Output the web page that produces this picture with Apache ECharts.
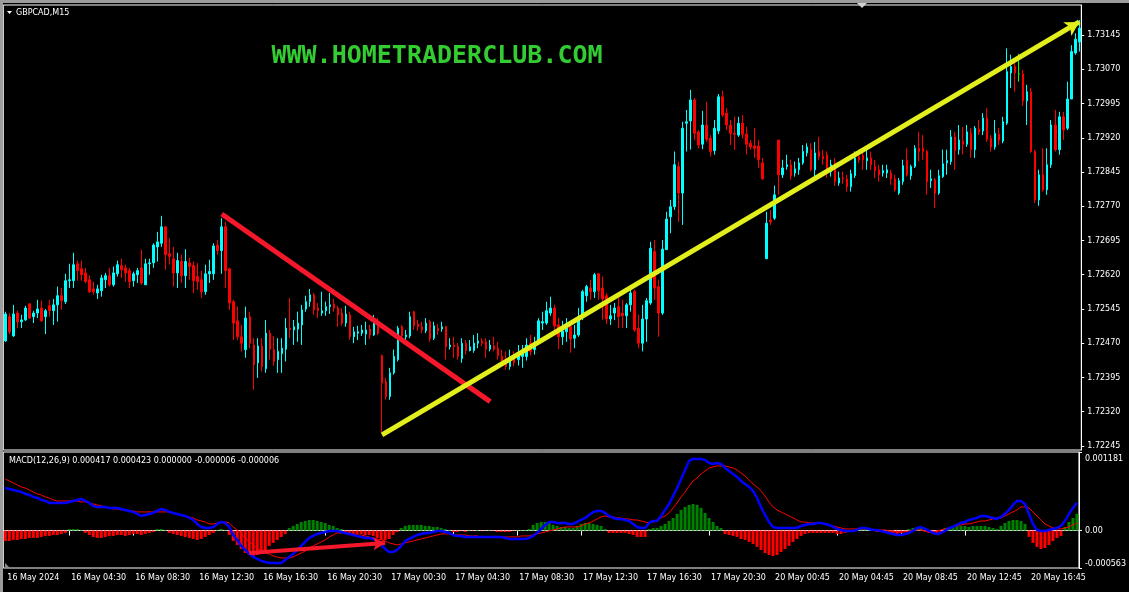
<!DOCTYPE html>
<html><head><meta charset="utf-8">
<script src="https://cdn.jsdelivr.net/npm/echarts@6/dist/echarts.min.js"></script>
<style>html,body{margin:0;padding:0;background:#000;}#c{width:1129px;height:592px;}</style>
</head><body><div id="c"></div>
<script>
const symbolName = 'GBPCAD,M15';
const watermark = 'WWW.HOMETRADERCLUB.COM';
const macdLegend = 'MACD(12,26,9) 0.000417 0.000423 0.000000 -0.000006 -0.000006';
const priceTicks = [1.72245,1.72320,1.72395,1.72470,1.72545,1.72620,1.72695,1.72770,1.72845,1.72920,1.72995,1.73070,1.73145];
const macdTicks = [-0.000563, 0, 0.001181];
const timeLabels = ['16 May 2024','16 May 04:30','16 May 08:30','16 May 12:30','16 May 16:30','16 May 20:30','17 May 00:30','17 May 04:30','17 May 08:30','17 May 12:30','17 May 16:30','17 May 20:30','20 May 00:45','20 May 04:45','20 May 08:45','20 May 12:45','20 May 16:45'];
const labelStep = 16;

const open = [
1.72475,1.72528,1.72486,1.72536,1.72517,1.72521,1.72556,1.72528,1.72536,1.72547,
1.72528,1.72552,1.72541,1.72554,1.72574,1.72561,1.72607,1.72607,1.72644,1.72633,
1.72624,1.72609,1.72589,1.72580,1.72585,1.72609,1.72618,1.72598,1.72622,1.72640,
1.72635,1.72629,1.72607,1.72620,1.72635,1.72598,1.72644,1.72646,1.72681,1.72689,
1.72725,1.72666,1.72655,1.72624,1.72649,1.72618,1.72646,1.72640,1.72616,1.72609,
1.72583,1.72622,1.72622,1.72685,1.72673,1.72725,1.72633,1.72561,1.72519,1.72484,
1.72456,1.72528,1.72466,1.72427,1.72464,1.72414,1.72492,1.72456,1.72434,1.72447,
1.72457,1.72503,1.72499,1.72501,1.72510,1.72545,1.72561,1.72576,1.72547,1.72536,
1.72541,1.72550,1.72556,1.72547,1.72536,1.72514,1.72532,1.72484,1.72492,1.72492,
1.72490,1.72501,1.72488,1.72517,1.72443,1.72386,1.72353,1.72405,1.72434,1.72506,
1.72484,1.72486,1.72539,1.72512,1.72506,1.72497,1.72517,1.72481,1.72503,1.72501,
1.72506,1.72462,1.72466,1.72464,1.72436,1.72470,1.72454,1.72454,1.72470,1.72475,
1.72473,1.72457,1.72464,1.72459,1.72441,1.72436,1.72419,1.72441,1.72434,1.72441,
1.72441,1.72470,1.72456,1.72470,1.72514,1.72514,1.72536,1.72547,1.72510,1.72484,
1.72495,1.72506,1.72481,1.72488,1.72528,1.72574,1.72591,1.72583,1.72622,1.72591,
1.72574,1.72523,1.72536,1.72550,1.72536,1.72530,1.72554,1.72583,1.72503,1.72470,
1.72523,1.72558,1.72671,1.72594,1.72536,1.72675,1.72747,1.72769,1.72857,1.72799,
1.72952,1.72957,1.73003,1.72933,1.72906,1.72948,1.72919,1.72892,1.72935,1.73010,
1.72974,1.72948,1.72930,1.72926,1.72952,1.72928,1.72908,1.72902,1.72902,1.72865,
1.72655,1.72740,1.72744,1.72915,1.72839,1.72857,1.72861,1.72843,1.72850,1.72865,
1.72887,1.72894,1.72850,1.72890,1.72879,1.72883,1.72846,1.72865,1.72821,1.72832,
1.72830,1.72813,1.72837,1.72879,1.72881,1.72870,1.72876,1.72857,1.72850,1.72843,
1.72843,1.72843,1.72830,1.72799,1.72824,1.72870,1.72837,1.72857,1.72897,1.72897,
1.72890,1.72826,1.72828,1.72799,1.72835,1.72865,1.72868,1.72922,1.72894,1.72913,
1.72906,1.72930,1.72894,1.72939,1.72935,1.72963,1.72919,1.72900,1.72928,1.72913,
1.72952,1.73062,1.73076,1.73060,1.73060,1.73001,1.73021,1.72890,1.72784,1.72839,
1.72806,1.72861,1.72948,1.72894,1.72966,1.72941,1.73005,1.73106,1.73130];

const close = [
1.72534,1.72495,1.72534,1.72517,1.72521,1.72547,1.72525,1.72536,1.72545,1.72519,
1.72541,1.72541,1.72554,1.72574,1.72563,1.72607,1.72609,1.72642,1.72629,1.72620,
1.72605,1.72583,1.72583,1.72589,1.72613,1.72618,1.72598,1.72624,1.72642,1.72631,
1.72624,1.72605,1.72622,1.72629,1.72602,1.72644,1.72646,1.72685,1.72692,1.72725,
1.72664,1.72660,1.72624,1.72651,1.72618,1.72649,1.72638,1.72607,1.72605,1.72583,
1.72622,1.72627,1.72683,1.72673,1.72725,1.72629,1.72558,1.72514,1.72484,1.72470,
1.72525,1.72470,1.72423,1.72464,1.72419,1.72492,1.72457,1.72430,1.72452,1.72459,
1.72503,1.72499,1.72506,1.72514,1.72543,1.72561,1.72576,1.72543,1.72541,1.72541,
1.72550,1.72554,1.72547,1.72532,1.72514,1.72534,1.72484,1.72495,1.72495,1.72499,
1.72499,1.72488,1.72517,1.72492,1.72383,1.72353,1.72405,1.72441,1.72503,1.72486,
1.72488,1.72528,1.72508,1.72506,1.72499,1.72514,1.72479,1.72508,1.72497,1.72506,
1.72462,1.72466,1.72462,1.72441,1.72470,1.72454,1.72462,1.72470,1.72475,1.72470,
1.72457,1.72466,1.72457,1.72443,1.72430,1.72419,1.72438,1.72427,1.72447,1.72452,
1.72466,1.72452,1.72470,1.72519,1.72517,1.72541,1.72547,1.72508,1.72484,1.72497,
1.72503,1.72479,1.72488,1.72528,1.72583,1.72594,1.72583,1.72620,1.72585,1.72567,
1.72523,1.72530,1.72547,1.72528,1.72530,1.72554,1.72580,1.72499,1.72470,1.72523,
1.72563,1.72678,1.72591,1.72536,1.72676,1.72742,1.72769,1.72861,1.72799,1.72941,
1.72955,1.73003,1.72930,1.72904,1.72948,1.72917,1.72890,1.72941,1.73010,1.72970,
1.72948,1.72930,1.72928,1.72952,1.72928,1.72906,1.72900,1.72897,1.72872,1.72830,
1.72733,1.72736,1.72795,1.72839,1.72854,1.72861,1.72837,1.72852,1.72865,1.72890,
1.72900,1.72850,1.72887,1.72879,1.72874,1.72846,1.72861,1.72824,1.72832,1.72830,
1.72813,1.72841,1.72876,1.72872,1.72872,1.72876,1.72861,1.72848,1.72839,1.72848,
1.72850,1.72830,1.72806,1.72826,1.72859,1.72839,1.72857,1.72897,1.72890,1.72890,
1.72824,1.72830,1.72799,1.72837,1.72863,1.72870,1.72922,1.72892,1.72915,1.72906,
1.72933,1.72894,1.72941,1.72933,1.72963,1.72917,1.72900,1.72930,1.72915,1.72955,
1.73065,1.73076,1.73062,1.73060,1.73001,1.73021,1.72890,1.72784,1.72839,1.72806,
1.72861,1.72948,1.72894,1.72966,1.72937,1.73005,1.73109,1.73136,1.73160];

const high = [
1.72539,1.72536,1.72554,1.72541,1.72532,1.72552,1.72558,1.72541,1.72565,1.72563,
1.72545,1.72565,1.72567,1.72594,1.72591,1.72622,1.72644,1.72668,1.72651,1.72651,
1.72635,1.72618,1.72605,1.72598,1.72620,1.72624,1.72635,1.72638,1.72651,1.72655,
1.72642,1.72635,1.72627,1.72635,1.72675,1.72655,1.72655,1.72689,1.72714,1.72749,
1.72725,1.72700,1.72681,1.72668,1.72664,1.72676,1.72657,1.72649,1.72646,1.72629,
1.72642,1.72653,1.72689,1.72696,1.72744,1.72736,1.72635,1.72565,1.72550,1.72510,
1.72550,1.72539,1.72481,1.72481,1.72481,1.72521,1.72499,1.72486,1.72481,1.72481,
1.72525,1.72569,1.72521,1.72539,1.72554,1.72574,1.72589,1.72580,1.72558,1.72583,
1.72561,1.72580,1.72567,1.72552,1.72547,1.72552,1.72539,1.72506,1.72508,1.72510,
1.72517,1.72510,1.72532,1.72525,1.72445,1.72394,1.72416,1.72456,1.72508,1.72510,
1.72499,1.72539,1.72541,1.72521,1.72517,1.72525,1.72521,1.72517,1.72512,1.72517,
1.72508,1.72481,1.72484,1.72470,1.72481,1.72477,1.72477,1.72488,1.72492,1.72481,
1.72481,1.72477,1.72484,1.72473,1.72456,1.72452,1.72456,1.72452,1.72466,1.72466,
1.72481,1.72488,1.72484,1.72525,1.72539,1.72561,1.72572,1.72554,1.72525,1.72519,
1.72525,1.72510,1.72510,1.72547,1.72587,1.72598,1.72609,1.72624,1.72624,1.72616,
1.72580,1.72554,1.72558,1.72576,1.72565,1.72558,1.72591,1.72587,1.72532,1.72554,
1.72569,1.72692,1.72696,1.72609,1.72696,1.72758,1.72784,1.72890,1.72868,1.72955,
1.72981,1.73025,1.73007,1.72937,1.72979,1.72999,1.72926,1.72959,1.73016,1.73023,
1.72985,1.72959,1.72966,1.72966,1.72970,1.72944,1.72915,1.72941,1.72915,1.72876,
1.72758,1.72762,1.72815,1.72915,1.72872,1.72883,1.72872,1.72868,1.72876,1.72904,
1.72908,1.72908,1.72911,1.72922,1.72894,1.72890,1.72872,1.72876,1.72846,1.72846,
1.72839,1.72850,1.72890,1.72894,1.72897,1.72894,1.72890,1.72872,1.72861,1.72861,
1.72861,1.72850,1.72839,1.72832,1.72872,1.72897,1.72861,1.72904,1.72933,1.72926,
1.72894,1.72850,1.72832,1.72850,1.72894,1.72894,1.72937,1.72933,1.72948,1.72944,
1.72948,1.72941,1.72946,1.72959,1.72974,1.72985,1.72926,1.72959,1.72941,1.72966,
1.73116,1.73102,1.73087,1.73104,1.73069,1.73036,1.73029,1.72894,1.72850,1.72897,
1.72897,1.72959,1.72981,1.72977,1.72977,1.73043,1.73123,1.73149,1.73178];

const low = [
1.72473,1.72490,1.72484,1.72503,1.72503,1.72519,1.72523,1.72514,1.72525,1.72517,
1.72490,1.72528,1.72510,1.72517,1.72543,1.72556,1.72591,1.72591,1.72607,1.72607,
1.72602,1.72580,1.72576,1.72567,1.72572,1.72591,1.72594,1.72594,1.72616,1.72613,
1.72605,1.72591,1.72594,1.72602,1.72598,1.72598,1.72620,1.72635,1.72649,1.72681,
1.72631,1.72642,1.72594,1.72591,1.72602,1.72591,1.72609,1.72580,1.72587,1.72569,
1.72576,1.72602,1.72609,1.72664,1.72622,1.72591,1.72543,1.72477,1.72477,1.72452,
1.72438,1.72459,1.72368,1.72394,1.72408,1.72405,1.72434,1.72421,1.72405,1.72405,
1.72430,1.72481,1.72466,1.72473,1.72466,1.72539,1.72550,1.72532,1.72525,1.72530,
1.72530,1.72534,1.72539,1.72506,1.72508,1.72506,1.72477,1.72470,1.72477,1.72486,
1.72466,1.72479,1.72486,1.72488,1.72276,1.72346,1.72346,1.72401,1.72430,1.72481,
1.72477,1.72481,1.72499,1.72497,1.72492,1.72492,1.72473,1.72477,1.72488,1.72495,
1.72434,1.72456,1.72438,1.72434,1.72427,1.72445,1.72452,1.72449,1.72459,1.72464,
1.72438,1.72452,1.72452,1.72434,1.72423,1.72412,1.72412,1.72419,1.72421,1.72416,
1.72432,1.72443,1.72445,1.72466,1.72499,1.72510,1.72530,1.72499,1.72457,1.72466,
1.72473,1.72449,1.72459,1.72484,1.72521,1.72561,1.72565,1.72569,1.72565,1.72521,
1.72512,1.72510,1.72521,1.72503,1.72503,1.72503,1.72539,1.72495,1.72459,1.72452,
1.72473,1.72554,1.72565,1.72484,1.72532,1.72707,1.72711,1.72762,1.72736,1.72729,
1.72890,1.72894,1.72915,1.72897,1.72895,1.72911,1.72879,1.72883,1.72928,1.72966,
1.72937,1.72904,1.72894,1.72922,1.72919,1.72883,1.72894,1.72876,1.72854,1.72828,
1.72655,1.72729,1.72740,1.72795,1.72832,1.72850,1.72828,1.72835,1.72839,1.72861,
1.72879,1.72846,1.72832,1.72872,1.72861,1.72832,1.72835,1.72815,1.72815,1.72819,
1.72802,1.72802,1.72832,1.72865,1.72850,1.72850,1.72850,1.72832,1.72824,1.72835,
1.72832,1.72817,1.72802,1.72795,1.72817,1.72835,1.72828,1.72854,1.72868,1.72872,
1.72795,1.72810,1.72766,1.72795,1.72832,1.72839,1.72861,1.72850,1.72883,1.72883,
1.72900,1.72876,1.72876,1.72926,1.72926,1.72911,1.72890,1.72894,1.72904,1.72908,
1.72948,1.73029,1.73021,1.73043,1.72990,1.72948,1.72887,1.72777,1.72771,1.72802,
1.72795,1.72854,1.72890,1.72883,1.72915,1.72937,1.73021,1.73102,1.73109];

const macd = [
0.000640,0.000625,0.000610,0.000595,0.000580,0.000550,0.000535,0.000505,0.000490,0.000460,
0.000445,0.000415,0.000415,0.000415,0.000415,0.000415,0.000430,0.000445,0.000460,0.000475,
0.000445,0.000415,0.000370,0.000355,0.000355,0.000355,0.000340,0.000340,0.000340,0.000325,
0.000310,0.000295,0.000280,0.000250,0.000219,0.000234,0.000250,0.000265,0.000295,0.000325,
0.000310,0.000280,0.000265,0.000250,0.000234,0.000219,0.000189,0.000159,0.000099,0.000054,
0.000039,0.000039,0.000054,0.000099,0.000129,0.000114,0.000054,-0.000066,-0.000141,-0.000231,
-0.000292,-0.000352,-0.000397,-0.000427,-0.000457,-0.000472,-0.000487,-0.000487,-0.000487,-0.000487,
-0.000442,-0.000397,-0.000352,-0.000292,-0.000231,-0.000171,-0.000111,-0.000081,-0.000051,-0.000036,
-0.000021,-0.000006,-0.000006,-0.000006,-0.000021,-0.000036,-0.000051,-0.000066,-0.000081,-0.000096,
-0.000111,-0.000111,-0.000126,-0.000156,-0.000216,-0.000277,-0.000322,-0.000322,-0.000292,-0.000231,
-0.000156,-0.000126,-0.000096,-0.000066,-0.000051,-0.000036,-0.000036,-0.000021,-0.000006,-0.000006,
-0.000021,-0.000036,-0.000066,-0.000081,-0.000081,-0.000096,-0.000096,-0.000096,-0.000096,-0.000096,
-0.000096,-0.000096,-0.000096,-0.000096,-0.000096,-0.000111,-0.000126,-0.000126,-0.000126,-0.000126,
-0.000126,-0.000111,-0.000081,-0.000036,0.000024,0.000084,0.000129,0.000129,0.000114,0.000114,
0.000114,0.000099,0.000099,0.000129,0.000159,0.000189,0.000234,0.000280,0.000295,0.000295,
0.000265,0.000219,0.000189,0.000174,0.000174,0.000159,0.000144,0.000099,0.000054,0.000039,
0.000039,0.000114,0.000144,0.000144,0.000219,0.000310,0.000400,0.000520,0.000640,0.000776,
0.000911,0.001046,0.001076,0.001076,0.001076,0.001061,0.001016,0.001001,0.001016,0.001001,
0.000941,0.000896,0.000851,0.000806,0.000745,0.000700,0.000655,0.000595,0.000490,0.000355,
0.000234,0.000129,0.000054,0.000039,0.000039,0.000039,0.000039,0.000039,0.000039,0.000069,
0.000084,0.000099,0.000099,0.000114,0.000114,0.000099,0.000084,0.000054,0.000024,0.000009,
-0.000006,-0.000006,-0.000006,0.000009,0.000039,0.000039,0.000024,0.000009,0.000009,-0.000006,
-0.000021,-0.000036,-0.000051,-0.000066,-0.000066,-0.000051,-0.000036,-0.000006,0.000039,0.000054,
0.000024,-0.000006,-0.000036,-0.000051,-0.000036,-0.000006,0.000039,0.000054,0.000084,0.000114,
0.000129,0.000159,0.000174,0.000189,0.000219,0.000219,0.000204,0.000189,0.000174,0.000204,
0.000250,0.000310,0.000385,0.000445,0.000445,0.000400,0.000250,0.000099,0.000009,-0.000006,
-0.000006,0.000009,0.000024,0.000039,0.000069,0.000144,0.000250,0.000340,0.000417];

const signal = [
0.000776,0.000745,0.000715,0.000685,0.000655,0.000640,0.000610,0.000580,0.000550,0.000535,
0.000505,0.000490,0.000460,0.000445,0.000445,0.000445,0.000445,0.000445,0.000445,0.000430,
0.000430,0.000415,0.000400,0.000385,0.000370,0.000355,0.000340,0.000325,0.000325,0.000310,
0.000310,0.000295,0.000295,0.000280,0.000280,0.000280,0.000280,0.000280,0.000280,0.000280,
0.000280,0.000280,0.000265,0.000250,0.000234,0.000219,0.000204,0.000189,0.000159,0.000144,
0.000129,0.000099,0.000099,0.000114,0.000129,0.000129,0.000114,0.000054,0.000009,-0.000051,
-0.000111,-0.000171,-0.000216,-0.000262,-0.000307,-0.000337,-0.000352,-0.000382,-0.000397,-0.000412,
-0.000412,-0.000412,-0.000397,-0.000367,-0.000337,-0.000307,-0.000262,-0.000231,-0.000201,-0.000171,
-0.000141,-0.000096,-0.000066,-0.000036,-0.000036,-0.000021,-0.000036,-0.000051,-0.000066,-0.000066,
-0.000081,-0.000096,-0.000111,-0.000126,-0.000141,-0.000156,-0.000186,-0.000201,-0.000216,-0.000201,
-0.000186,-0.000171,-0.000156,-0.000141,-0.000126,-0.000111,-0.000096,-0.000081,-0.000066,-0.000051,
-0.000051,-0.000051,-0.000066,-0.000066,-0.000066,-0.000066,-0.000081,-0.000081,-0.000081,-0.000096,
-0.000096,-0.000096,-0.000096,-0.000096,-0.000096,-0.000096,-0.000096,-0.000096,-0.000096,-0.000081,
-0.000081,-0.000081,-0.000066,-0.000051,-0.000036,-0.000021,-0.000006,0.000009,0.000024,0.000039,
0.000054,0.000054,0.000054,0.000054,0.000069,0.000099,0.000114,0.000144,0.000174,0.000204,
0.000219,0.000204,0.000204,0.000189,0.000189,0.000174,0.000174,0.000159,0.000159,0.000144,
0.000129,0.000114,0.000129,0.000144,0.000189,0.000219,0.000265,0.000340,0.000415,0.000505,
0.000580,0.000670,0.000745,0.000791,0.000851,0.000896,0.000941,0.000956,0.000971,0.000971,
0.000971,0.000956,0.000941,0.000911,0.000866,0.000821,0.000761,0.000700,0.000655,0.000595,
0.000520,0.000430,0.000355,0.000310,0.000280,0.000250,0.000219,0.000189,0.000159,0.000129,
0.000129,0.000114,0.000114,0.000114,0.000114,0.000099,0.000084,0.000069,0.000054,0.000039,
0.000024,0.000024,0.000024,0.000024,0.000024,0.000024,0.000024,0.000009,0.000009,0.000009,
0.000009,-0.000006,-0.000006,-0.000021,-0.000021,-0.000021,-0.000006,0.000009,0.000009,0.000009,
-0.000006,-0.000021,-0.000021,-0.000006,0.000009,0.000024,0.000039,0.000054,0.000069,0.000084,
0.000099,0.000099,0.000114,0.000129,0.000144,0.000144,0.000159,0.000174,0.000189,0.000189,
0.000219,0.000250,0.000280,0.000310,0.000355,0.000355,0.000340,0.000280,0.000219,0.000159,
0.000099,0.000069,0.000039,0.000024,0.000024,0.000039,0.000054,0.000084,0.000114];

const hist = [
-0.000156,-0.000156,-0.000141,-0.000141,-0.000126,-0.000126,-0.000111,-0.000111,-0.000111,-0.000096,
-0.000081,-0.000081,-0.000066,-0.000066,-0.000051,-0.000036,0.000024,0.000024,0.000024,0.000009,
-0.000036,-0.000066,-0.000096,-0.000111,-0.000111,-0.000096,-0.000081,-0.000081,-0.000066,-0.000066,
-0.000081,-0.000066,-0.000051,-0.000051,-0.000066,-0.000051,-0.000036,-0.000021,0.000024,0.000024,
0.000009,-0.000036,-0.000051,-0.000066,-0.000081,-0.000096,-0.000111,-0.000126,-0.000141,-0.000126,
-0.000096,-0.000066,-0.000036,0.000009,0.000024,0.000009,-0.000066,-0.000156,-0.000216,-0.000277,
-0.000337,-0.000367,-0.000382,-0.000367,-0.000337,-0.000292,-0.000231,-0.000186,-0.000141,-0.000096,
-0.000051,0.000039,0.000069,0.000099,0.000129,0.000144,0.000159,0.000159,0.000144,0.000129,
0.000114,0.000084,0.000069,0.000039,0.000024,-0.000021,-0.000036,-0.000051,-0.000051,-0.000051,
-0.000066,-0.000066,-0.000081,-0.000111,-0.000141,-0.000141,-0.000126,-0.000066,-0.000021,0.000039,
0.000069,0.000084,0.000084,0.000084,0.000084,0.000069,0.000069,0.000054,0.000054,0.000039,
0.000024,0.000009,-0.000021,-0.000021,-0.000006,-0.000021,0.000009,-0.000006,0.000009,-0.000006,
-0.000006,0.000009,-0.000006,-0.000021,-0.000021,-0.000021,-0.000021,-0.000006,0.000009,0.000009,
0.000009,0.000024,0.000084,0.000114,0.000129,0.000129,0.000114,0.000084,0.000069,0.000054,
0.000054,0.000039,0.000039,0.000069,0.000099,0.000114,0.000114,0.000099,0.000084,0.000069,
0.000024,-0.000036,-0.000036,-0.000036,-0.000036,-0.000036,-0.000051,-0.000066,-0.000096,-0.000096,
-0.000096,0.000024,0.000039,0.000039,0.000069,0.000099,0.000144,0.000189,0.000250,0.000310,
0.000355,0.000385,0.000400,0.000385,0.000340,0.000265,0.000189,0.000129,0.000069,0.000039,
-0.000051,-0.000066,-0.000081,-0.000096,-0.000126,-0.000141,-0.000171,-0.000201,-0.000246,-0.000292,
-0.000337,-0.000367,-0.000382,-0.000367,-0.000322,-0.000277,-0.000231,-0.000171,-0.000126,-0.000081,
-0.000051,-0.000036,-0.000036,-0.000036,-0.000036,-0.000036,-0.000036,-0.000036,-0.000051,-0.000051,
-0.000036,-0.000021,-0.000021,0.000009,0.000024,0.000024,0.000009,0.000009,-0.000021,-0.000021,
-0.000036,-0.000036,-0.000036,-0.000051,-0.000036,-0.000021,0.000024,0.000039,0.000054,0.000039,
-0.000021,-0.000036,-0.000051,-0.000036,-0.000021,0.000039,0.000054,0.000069,0.000069,0.000069,
0.000069,0.000054,0.000069,0.000069,0.000069,0.000069,0.000054,0.000039,0.000024,0.000069,
0.000114,0.000144,0.000159,0.000159,0.000144,0.000099,-0.000096,-0.000186,-0.000246,-0.000277,
-0.000262,-0.000216,-0.000156,-0.000111,-0.000081,0.000054,0.000129,0.000189,0.000250];

// drawn annotations, in data terms: [bar index, value]
const redTrend = [[54, 1.72753], [121, 1.72342]];
const yellowTrend = [[94, 1.72269], [268, 1.73174]];
const macdArrow = [[61, -0.000337], [95, -0.000186]];

const categories = open.map((_, i) => i);
const candleData = open.map((o, i) => {
  const v = [o, close[i], low[i], high[i]];
  return o === close[i] ? { value: v, itemStyle: { color: '#00ff00', borderColor: '#00ff00' } } : v;
});
const histData = hist.map(v => ({ value: v, itemStyle: { color: v >= 0 ? '#008000' : '#ff0000' } }));

const FONT = 'DejaVu Sans';
const chart = echarts.init(document.getElementById('c'), null, { renderer: 'canvas' });
chart.setOption({
  backgroundColor: '#000',
  animation: false,
  grid: [
    { left: 3.3, top: 5, width: 1078, height: 445, show: true, backgroundColor: '#000', borderColor: '#ffffff', borderWidth: 1 },
    { left: 3.3, top: 452, width: 1078, height: 116, show: true, backgroundColor: '#000', borderColor: '#ffffff', borderWidth: 1 }
  ],
  xAxis: [
    { type: 'category', gridIndex: 0, data: categories, boundaryGap: true,
      axisLine: { show: false }, axisTick: { show: false }, axisLabel: { show: false }, splitLine: { show: false } },
    { type: 'category', gridIndex: 1, data: categories, boundaryGap: true,
      axisLine: { show: true, lineStyle: { color: '#ffffff', width: 1 } },
      axisTick: { show: true, interval: labelStep - 1, alignWithLabel: true, length: 5, lineStyle: { color: '#ffffff' } },
      axisLabel: { show: true, interval: labelStep - 1, align: 'left', color: '#ffffff', fontFamily: FONT, fontSize: 8, margin: 6, padding: [0, 0, 0, 2],
        formatter: (v, idx) => timeLabels[Math.round(idx / labelStep)] || '' },
      splitLine: { show: false } }
  ],
  yAxis: [
    { type: 'value', gridIndex: 0, position: 'right', min: 1.72236, max: 1.73211,
      axisLine: { show: true, lineStyle: { color: '#ffffff' } },
      axisTick: { show: true, customValues: priceTicks, length: 3, lineStyle: { color: '#ffffff' } },
      axisLabel: { show: true, customValues: priceTicks, color: '#ffffff', fontFamily: FONT, fontSize: 8, margin: 6,
        formatter: v => v.toFixed(5) },
      splitLine: { show: false } },
    { type: 'value', gridIndex: 1, position: 'right', min: -0.000563, max: 0.001181,
      axisLine: { show: true, lineStyle: { color: '#ffffff' } },
      axisTick: { show: true, customValues: macdTicks, length: 3, lineStyle: { color: '#ffffff' } },
      axisLabel: { show: true, customValues: macdTicks, color: '#ffffff', fontFamily: FONT, fontSize: 8, margin: 6,
        verticalAlignMinLabel: 'bottom', verticalAlignMaxLabel: 'top',
        formatter: v => (v === 0 ? '0.00' : (v > 0 ? '{t|' + v.toFixed(6) + '}' : v.toFixed(6))),
        rich: { t: { color: '#ffffff', fontFamily: FONT, fontSize: 8, padding: [3, 0, 0, 0] } } },
      splitLine: { show: false } }
  ],
  series: [
    { type: 'candlestick', xAxisIndex: 0, yAxisIndex: 0, data: candleData, barWidth: 2,
      itemStyle: { color: '#00ffff', color0: '#ff0000', borderColor: '#00ffff', borderColor0: '#ff0000', borderWidth: 1 },
      markLine: { silent: true, animation: false, label: { show: false }, emphasis: { disabled: true },
        data: [
          [ { coord: redTrend[0], symbol: 'none', lineStyle: { color: '#f4182a', width: 5, type: 'solid' } },
            { coord: redTrend[1], symbol: 'none' } ],
          [ { coord: yellowTrend[0], symbol: 'none', lineStyle: { color: '#e2ef1c', width: 5, type: 'solid' } },
            { coord: yellowTrend[1], symbol: 'arrow', symbolSize: [12, 14] } ]
        ] } },
    { type: 'bar', xAxisIndex: 1, yAxisIndex: 1, data: histData, barWidth: 3 },
    { type: 'line', xAxisIndex: 1, yAxisIndex: 1, data: signal, symbol: 'none', lineStyle: { color: '#ff0000', width: 1 }, z: 3 },
    { type: 'line', xAxisIndex: 1, yAxisIndex: 1, data: macd, symbol: 'none', lineStyle: { color: '#0000ff', width: 2.5 }, z: 4,
      markLine: { silent: true, animation: false, label: { show: false }, emphasis: { disabled: true },
        data: [
          [ { coord: macdArrow[0], symbol: 'none', lineStyle: { color: '#f4182a', width: 4, type: 'solid' } },
            { coord: macdArrow[1], symbol: 'arrow', symbolSize: [10, 12] } ]
        ] } }
  ],
  graphic: [
    { type: 'rect', silent: true, shape: { x: 0, y: 0, width: 1129, height: 3 }, style: { fill: '#9c9c9c' } },
    { type: 'rect', silent: true, shape: { x: 0, y: 0, width: 3, height: 592 }, style: { fill: '#9c9c9c' } },
    { type: 'polygon', silent: true, shape: { points: [[857, 3], [867, 3], [862, 8]] }, style: { fill: '#d0d0d0' } },
    { type: 'polygon', silent: true, shape: { points: [[7, 11], [12, 11], [9.5, 14]] }, style: { fill: '#ffffff' } },
    { type: 'text', silent: true, x: 16, y: 13, style: { text: symbolName, fill: '#ffffff', font: '8px "DejaVu Sans"', verticalAlign: 'middle' } },
    { type: 'text', silent: true, x: 437, y: 56, style: { text: watermark, fill: '#33cc33', font: 'bold 25px "DejaVu Sans Mono"', align: 'center', verticalAlign: 'middle' } },
    { type: 'text', silent: true, x: 9, y: 461, style: { text: macdLegend, fill: '#ffffff', font: '8px "DejaVu Sans"', verticalAlign: 'middle' } },
    { type: 'polygon', silent: true, shape: { points: [[5, 568], [10, 568], [5, 563]] }, style: { fill: '#8c8c8c' } }
  ]
});
</script>
</body></html>
